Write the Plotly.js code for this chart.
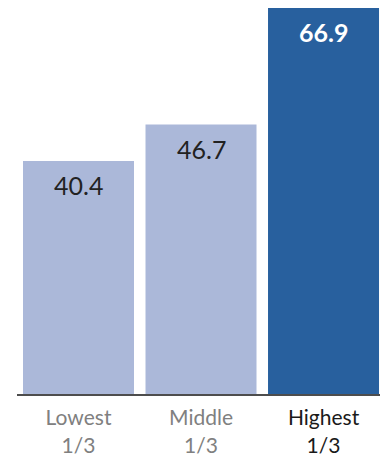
<!DOCTYPE html>
<html><head><meta charset="utf-8">
<script src="https://cdn.plot.ly/plotly-3.0.1.min.js"></script>
<style>html,body{margin:0;padding:0;background:#fff;}#chart{width:380px;height:455px;}</style>
</head><body><div id="chart"></div>
<script>
const categories = ["Lowest 1/3", "Middle 1/3", "Highest 1/3"];
const tickLines = [["Lowest", "1/3"], ["Middle", "1/3"], ["Highest", "1/3"]];
const values = [40.4, 46.7, 66.9];
const barColors = ["#abb8d9", "#abb8d9", "#28609e"];
const labelColors = ["#222222", "#222222", "#ffffff"];
const tickColors = ["#808080", "#808080", "#1a1a1a"];

const xs = categories.map((c, i) => i);
const trace = {
  type: "bar", x: xs, y: values,
  marker: {color: barColors, line: {width: 0}},
  hoverinfo: "skip"
};
const annotations = values.map((v, i) => ({
  x: i, y: v, xref: "x", yref: "y",
  text: i === 2 ? "<b>" + v.toFixed(1) + "</b>" : v.toFixed(1),
  showarrow: false, yanchor: "middle", yshift: -24,
  font: {family: "Lato, 'Open Sans', sans-serif", size: 25, color: labelColors[i]}
}));
const ticktext = tickLines.map((l, i) =>
  '<span style="color:' + tickColors[i] + '">' + l[0] + "<br>" + l[1] + '</span>');

Plotly.newPlot("chart", [trace], {
  width: 380, height: 455,
  margin: {l: 17, r: 0, t: 0, b: 61},
  paper_bgcolor: "#fff", plot_bgcolor: "#fff",
  bargap: 0.094,
  showlegend: false,
  xaxis: {
    range: [-0.502, 2.461], tickmode: "array", tickvals: xs, ticktext: ticktext,
    showline: true, linecolor: "#4d4d4d", linewidth: 2, ticks: "", showgrid: false,
    zeroline: false, fixedrange: true, ticklabelstandoff: 4,
    tickfont: {family: "Lato, 'Open Sans', sans-serif", size: 21, color: "#808080"}
  },
  yaxis: {range: [0, 68.29], visible: false, showgrid: false, zeroline: false, fixedrange: true},
  annotations: annotations
}, {staticPlot: true, displayModeBar: false});
</script></body></html>
